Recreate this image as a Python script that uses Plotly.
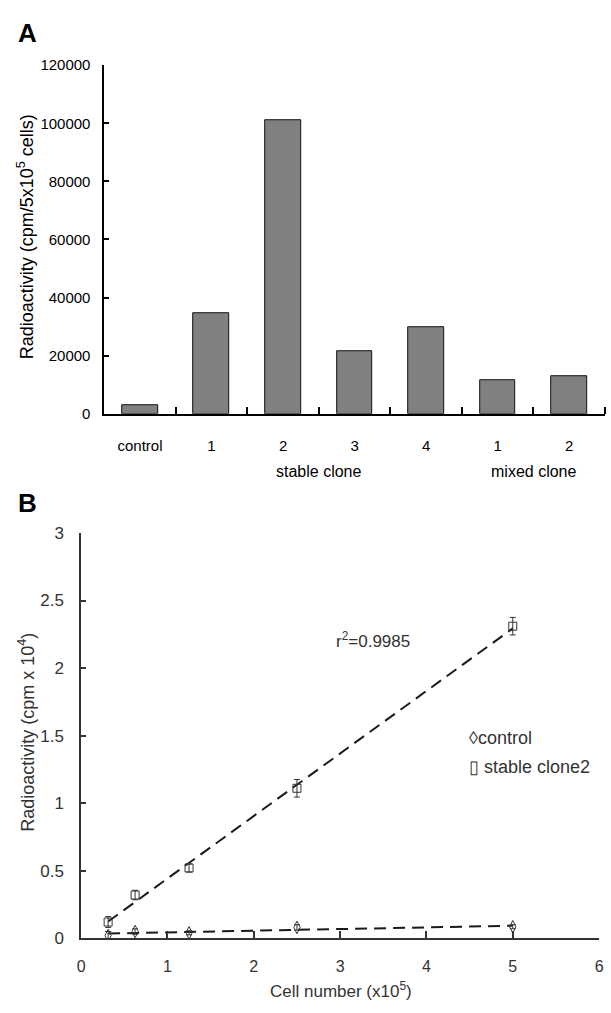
import numpy as np
import plotly.graph_objects as go

W, H = 611, 1013

# ---- Panel A data ----
bar_labels = ["control", "1", "2", "3", "4", "1", "2"]
bar_values = [3000, 34700, 101200, 21500, 29900, 11500, 13000]
group_labels = ["stable clone", "mixed clone"]
group_centers = [2.5, 5.5]
a_yticks = [0, 20000, 40000, 60000, 80000, 100000, 120000]

# ---- Panel B data ----
cell_number = [0.3125, 0.625, 1.25, 2.5, 5.0]
stable_y = [0.12, 0.32, 0.52, 1.11, 2.31]
stable_err = [0.04, 0.035, 0.03, 0.065, 0.065]
control_y = [0.02, 0.05, 0.04, 0.08, 0.085]
control_err = [0.03, 0.02, 0.015, 0.02, 0.015]
b_xticks = [0, 1, 2, 3, 4, 5, 6]
b_yticks = [0, 0.5, 1, 1.5, 2, 2.5, 3]

FONT = "Liberation Sans, Arial, sans-serif"
GRAYTXT = "#333333"


def px_x(px):
    return px / W


def px_y(py):
    return (H - py) / H


bar_pos = list(range(len(bar_labels)))

fig = go.Figure()

fig.add_trace(go.Bar(
    x=bar_pos, y=bar_values, width=0.5,
    marker=dict(color="#808080", line=dict(color="#111111", width=1)),
    xaxis="x", yaxis="y", showlegend=False,
))

# linear fits
xfit = np.array([min(cell_number), max(cell_number)])
ks, bs = np.polyfit(cell_number, stable_y, 1)
kc, bc = np.polyfit(cell_number, control_y, 1)

for k, b in [(ks, bs), (kc, bc)]:
    fig.add_trace(go.Scatter(
        x=xfit, y=k * xfit + b, mode="lines",
        line=dict(color="#1a1a1a", width=2, dash="12px,7px"),
        xaxis="x2", yaxis="y2", showlegend=False, hoverinfo="skip",
    ))

fig.add_trace(go.Scatter(
    x=cell_number, y=stable_y, mode="markers", name="stable clone2",
    marker=dict(symbol="square-open", size=8, color="#333333", line=dict(width=1)),
    error_y=dict(type="data", array=stable_err, color="#333333", thickness=1, width=3),
    xaxis="x2", yaxis="y2", showlegend=False,
))
fig.add_trace(go.Scatter(
    x=cell_number, y=control_y, mode="markers", name="control",
    marker=dict(symbol="diamond-tall-open", size=9, color="#333333", line=dict(width=1)),
    error_y=dict(type="data", array=control_err, color="#333333", thickness=1, width=3),
    xaxis="x2", yaxis="y2", showlegend=False,
))


def pann(text, x, y, size, color="black", angle=0, xanchor="center"):
    return dict(text=text, x=px_x(x), y=px_y(y), xref="paper", yref="paper",
                xanchor=xanchor, yanchor="middle", textangle=angle,
                showarrow=False, font=dict(size=size, color=color, family=FONT))


annotations = [
    pann("<b>A</b>", 24, 24, 26),
    pann("<b>B</b>", 24, 503, 26),
    pann("Radioactivity (cpm/5x10<sup>5</sup> cells)", 22, 232, 18, angle=-90),
    pann("Radioactivity (cpm x 10<sup>4</sup>)", 23, 737, 18, GRAYTXT, angle=-90),
    pann("Cell number (x10<sup>5</sup>)", 342, 1000, 17, GRAYTXT),
    pann("◊control", 470, 743, 18, GRAYTXT, xanchor="left"),
    pann("▯ stable clone2", 470, 772, 18, GRAYTXT, xanchor="left"),
    dict(text="r<sup>2</sup>=0.9985", x=2.93, y=2.21, xref="x2", yref="y2",
         xanchor="left", yanchor="middle", showarrow=False,
         font=dict(size=17, color=GRAYTXT, family=FONT)),
]
for lab, cx in zip(group_labels, group_centers):
    annotations.append(dict(text=lab, x=cx, y=px_y(471.5), xref="x", yref="paper",
                            xanchor="center", yanchor="middle", showarrow=False,
                            font=dict(size=16, color="black", family=FONT)))

fig.update_layout(
    width=W, height=H,
    margin=dict(l=0, r=0, t=0, b=0),
    paper_bgcolor="white", plot_bgcolor="white",
    font=dict(family=FONT, color="black"),
    showlegend=False,
    bargap=0,
    xaxis=dict(
        domain=[px_x(101.7), px_x(610)], anchor="y",
        range=[-0.5, 6.5], tickmode="array", tickvals=bar_pos, ticktext=bar_labels,
        ticks="", showline=True, linecolor="black", linewidth=2,
        showgrid=False, zeroline=False,
        tickfont=dict(size=15, color="black"), ticklabelstandoff=17,
        minor=dict(tickvals=[p + 0.5 for p in bar_pos], ticks="inside", ticklen=7,
                   tickcolor="black", tickwidth=1.5, showgrid=False),
    ),
    yaxis=dict(
        domain=[px_y(412.5), px_y(57.3)], anchor="x",
        range=[0, 120000], tickmode="array", tickvals=a_yticks, tickformat="d",
        ticks="inside", ticklen=5, tickwidth=1.5, tickcolor="black",
        showline=True, linecolor="black", linewidth=1.5,
        showgrid=False, zeroline=False,
        tickfont=dict(size=15, color="black"), ticklabelstandoff=9,
    ),
    xaxis2=dict(
        domain=[px_x(78.3), px_x(604)], anchor="y2",
        range=[0, 6], tickmode="array", tickvals=b_xticks,
        ticks="inside", ticklen=7, tickwidth=1.5, tickcolor="#333333",
        showline=True, linecolor="#333333", linewidth=1.5,
        showgrid=False, zeroline=False,
        tickfont=dict(size=16, color=GRAYTXT), ticklabelstandoff=13,
    ),
    yaxis2=dict(
        domain=[px_y(947), px_y(534)], anchor="x2",
        range=[0, 3], tickmode="array", tickvals=b_yticks,
        ticks="inside", ticklen=5, tickwidth=1.5, tickcolor="#333333",
        showline=True, linecolor="#333333", linewidth=1.5,
        showgrid=False, zeroline=False,
        tickfont=dict(size=17, color=GRAYTXT), ticklabelstandoff=12,
    ),
    annotations=annotations,
)

fig.write_html("out.html")
